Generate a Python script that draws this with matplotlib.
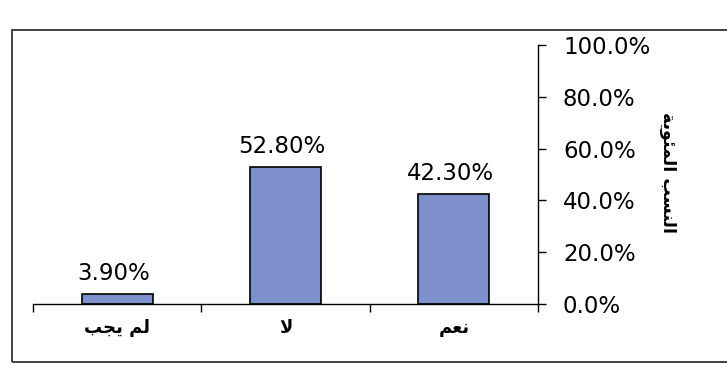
import matplotlib

matplotlib.use("Agg")

import matplotlib.pyplot as plt
from matplotlib.patches import Rectangle
from matplotlib.ticker import FuncFormatter

# Arabic text is stored in presentation forms, visual (left-to-right) order,
# because matplotlib does not shape or reorder RTL text itself.
categories = ["\ufe90\ufea0\ufef3 \ufee2\ufedf",   # لم يجب
              "\ufefb",                            # لا
              "\ufee2\ufecc\ufee7"]                # نعم
values = [3.9, 52.8, 42.3]
value_labels = ["3.90%", "52.80%", "42.30%"]
y_ticks = [0, 20, 40, 60, 80, 100]
y_label = "\ufe94\ufef3\ufeee\ufe8c\ufee4\ufedf\ufe8d \ufe90\ufeb4\ufee8\ufedf\ufe8d"  # النسب المئوية

BAR_COLOR = "#7d90cb"
FONT = "DejaVu Sans"

fig = plt.figure(figsize=(7.27, 3.8), dpi=100)
ax = fig.add_axes([33 / 727, 1 - 304 / 380, (538 - 33) / 727, (304 - 45) / 380])

x = list(range(len(categories)))
ax.bar(x, values, width=0.42, color=BAR_COLOR, edgecolor="black", linewidth=1.2)

for xi, v, lab in zip(x, values, value_labels):
    ax.text(xi - 0.02, v + 5.5, lab, ha="center", va="baseline",
            fontsize=16.5, family=FONT)

ax.set_xlim(-0.5, len(categories) - 0.5)
ax.set_ylim(0, 100)

# spines: only bottom and right
for side in ("left", "top"):
    ax.spines[side].set_visible(False)
ax.spines["bottom"].set_linewidth(1.0)
ax.spines["right"].set_linewidth(1.0)

# x: labels centred under bars, ticks at category boundaries
ax.set_xticks(x)
ax.set_xticklabels(categories, family=FONT, fontsize=13, fontweight="bold")
ax.tick_params(axis="x", which="major", length=0, pad=11)
ax.set_xticks([i - 0.5 for i in range(len(categories) + 1)], minor=True)
ax.tick_params(axis="x", which="minor", length=6, width=1.0, direction="out")

# y on the right side
ax.yaxis.tick_right()
ax.set_yticks(y_ticks)
ax.yaxis.set_major_formatter(FuncFormatter(lambda v, _: f"{v:.1f}%"))
ax.tick_params(axis="y", length=6, width=1.0, direction="out", pad=12, labelsize=16.5)
for t in ax.get_yticklabels():
    t.set_family(FONT)

fig.text(668 / 727, 1 - 172 / 380, y_label, rotation=-90, ha="center", va="center",
         fontsize=12.5, fontweight="bold", family=FONT)

# chart-area border
fig.patches.append(Rectangle((12 / 727, 1 - 362 / 380), 1.0, (362 - 30) / 380,
                             transform=fig.transFigure, fill=False,
                             edgecolor="#333333", linewidth=1.3))

fig.savefig("out.png", dpi=100)
